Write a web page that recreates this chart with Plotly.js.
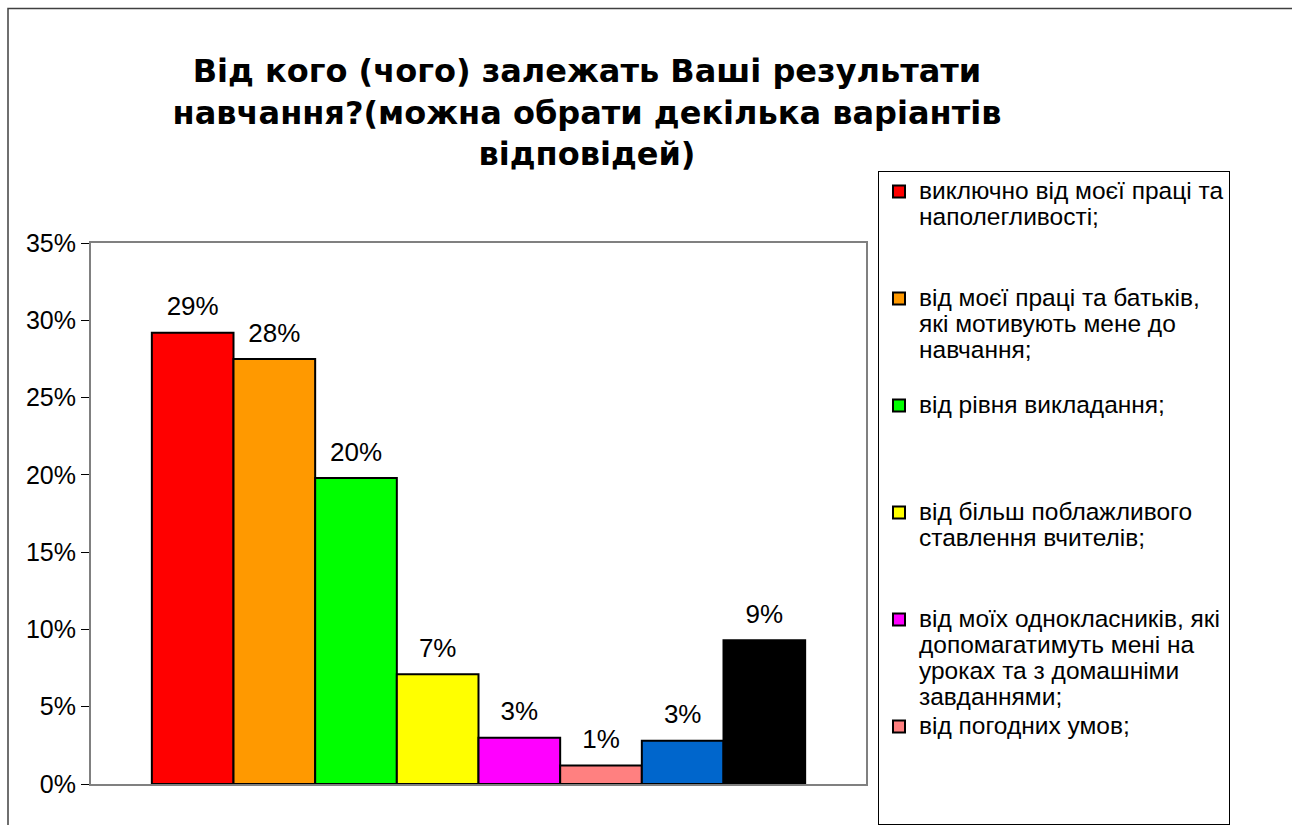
<!DOCTYPE html>
<html>
<head>
<meta charset="utf-8">
<script src="https://cdn.plot.ly/plotly-3.0.1.min.js"></script>
<style>html,body{margin:0;padding:0;background:#fff;}#chart{width:1292px;height:825px;}</style>
</head>
<body>
<div id="chart"></div>
<script>
// ---- data ----
const seriesNames = [
  ["виключно від моєї праці та", "наполегливості;"],
  ["від моєї праці та батьків,", "які мотивують мене до", "навчання;"],
  ["від рівня викладання;"],
  ["від більш поблажливого", "ставлення вчителів;"],
  ["від моїх однокласників, які", "допомагатимуть мені на", "уроках та з домашніми", "завданнями;"],
  ["від погодних умов;"],
  ["інше (синій);"],
  ["інше (чорний);"]
];
const seriesValues = [0.292, 0.275, 0.198, 0.071, 0.030, 0.012, 0.028, 0.093];
const seriesColors = ["#FF0000", "#FF9900", "#00FF00", "#FFFF00", "#FF00FF", "#FF8080", "#0066CC", "#000000"];
const seriesInLegend = [true, true, true, true, true, true, false, false];
const category = ["Питання"];
const yTickVals = [0, 0.05, 0.10, 0.15, 0.20, 0.25, 0.30, 0.35];
const titleText = "Від кого (чого) залежать Ваші результати<br>навчання?(можна обрати декілька варіантів<br>відповідей)";

const FONT = "Liberation Sans, Arial, sans-serif";

// legend label: each line at 24.5px glyph size, padded to 4 lines so items are evenly spaced
function legendLabel(lines, n) {
  const out = lines.map(s => "<span style='font-size:24.5px'>" + s + "</span>");
  for (let i = lines.length; i < n; i++) out.push("<span style='font-size:24.5px'>\u00a0</span>");
  return out.join("<br>");
}

const traces = seriesValues.map((v, i) => ({
  type: "bar",
  x: category,
  y: [v],
  name: legendLabel(seriesNames[i], 4),
  showlegend: seriesInLegend[i],
  marker: { color: seriesColors[i], line: { color: "#000000", width: 2 } },
  texttemplate: "<span style='font-size:26px'>%{y:.0%}</span><br><span style='font-size:2px'>\u00a0</span>",
  textposition: "outside",
  cliponaxis: false,
  constraintext: "none",
  textfont: { family: FONT, size: 11, color: "#000000" },
  hoverinfo: "skip"
}));

const W = 1292, H = 825;
const m = { l: 91, r: 426, t: 243, b: 41 };
const pw = W - m.l - m.r, ph = H - m.t - m.b;
const px = x => (x - m.l) / pw;
const py = y => (H - m.b - y) / ph;

const layout = {
  width: W, height: H,
  margin: m,
  paper_bgcolor: "#ffffff",
  plot_bgcolor: "#ffffff",
  barmode: "group",
  bargap: 0.157,
  bargroupgap: 0,
  font: { family: FONT, size: 20, color: "#000000" },
  title: {
    text: titleText,
    font: { family: "DejaVu Sans, Liberation Sans, sans-serif", size: 32, color: "#000000", weight: "bold" },
    xref: "paper", x: px(587), xanchor: "center",
    yref: "container", y: 1 - 82 / H, yanchor: "top"
  },
  xaxis: {
    showticklabels: false, ticks: "",
    showline: true, linecolor: "#808080", linewidth: 2, mirror: true,
    showgrid: false, zeroline: false, fixedrange: true
  },
  yaxis: {
    range: [0, 0.35],
    tickvals: yTickVals,
    tickformat: ".0%",
    ticks: "outside", ticklen: 8, tickwidth: 1, tickcolor: "#000000",
    tickfont: { family: FONT, size: 25, color: "#000000" },
    showline: true, linecolor: "#808080", linewidth: 2, mirror: true,
    showgrid: false, zeroline: false, fixedrange: true
  },
  legend: {
    x: px(878), xanchor: "left",
    y: py(174), yanchor: "top",
    maxheight: 820,
    bgcolor: "#ffffff",
    bordercolor: "#000000", borderwidth: 1,
    font: { family: FONT, size: 20.0, color: "#000000" },
    valign: "top",
    itemclick: false, itemdoubleclick: false
  },
  shapes: [{
    type: "rect", xref: "paper", yref: "paper", layer: "below",
    x0: px(8), x1: px(1300), y0: py(840), y1: py(8.5),
    line: { color: "#404040", width: 1.5 }, fillcolor: "rgba(0,0,0,0)"
  }],
  showlegend: true
};

Plotly.newPlot("chart", traces, layout, { displayModeBar: false, staticPlot: true });
</script>
</body>
</html>
